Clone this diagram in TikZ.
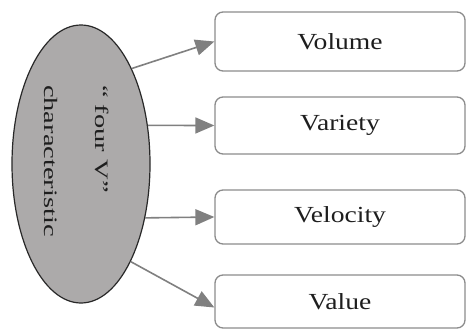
\documentclass[tikz,border=0pt]{standalone}
\usepackage{fontspec}
\setmainfont{Liberation Serif}
\usepackage{graphicx}
\usetikzlibrary{shapes.geometric,arrows.meta}
\definecolor{ellfill}{RGB}{172,170,170}
\definecolor{linegray}{RGB}{128,128,128}
\definecolor{boxgray}{RGB}{140,140,140}
\definecolor{txt}{RGB}{30,30,30}
\tikzset{
  ell/.style={ellipse, draw={rgb,255:red,40;green,40;blue,40}, line width=1.2pt, fill=ellfill,
    minimum width=138pt, minimum height=278pt, inner sep=0pt},
  vbox/.style={rectangle, rounded corners=8pt, draw=boxgray, line width=1.3pt,
    minimum width=250pt, inner sep=0pt, text=txt, font=\fontsize{23}{27}\selectfont},
  conn/.style={draw=linegray, line width=1.6pt, -{Triangle[length=19pt,width=16pt]}, fill=linegray},
}
\begin{document}
\begin{tikzpicture}[x=1pt,y=-1pt]
\useasboundingbox[fill=white] (0,0) rectangle (466,329);
\node[ell] (e) at (81,164) {};
\node[rotate=-90, align=left, inner sep=0pt, text=txt, font=\fontsize{19}{51}\selectfont] (lbl) at (77,161)
  {\scalebox{1.5}[1]{“ four V”}\\ \scalebox{1.5}[1]{characteristic}};
\node[vbox, minimum height=59pt] (b1) at (340,41.5) {\scalebox{1.2}[1]{Volume}};
\node[vbox, minimum height=57pt] (b2) at (340,125.5) {\scalebox{1.2}[1]{Variety}};
\node[vbox, minimum height=54pt] (b3) at (340,217) {\scalebox{1.2}[1]{Velocity}};
\node[vbox, minimum height=53pt] (b4) at (340,301.5) {\scalebox{1.2}[1]{Value}};
\draw[conn] (e.62) -- (b1.west);
\draw[conn] (e.30) -- (b2.west);
\draw[conn] (e.-40) -- (b3.west);
\draw[conn] (e.-63) -- ([yshift=-6pt]b4.west);
\end{tikzpicture}
\end{document}
